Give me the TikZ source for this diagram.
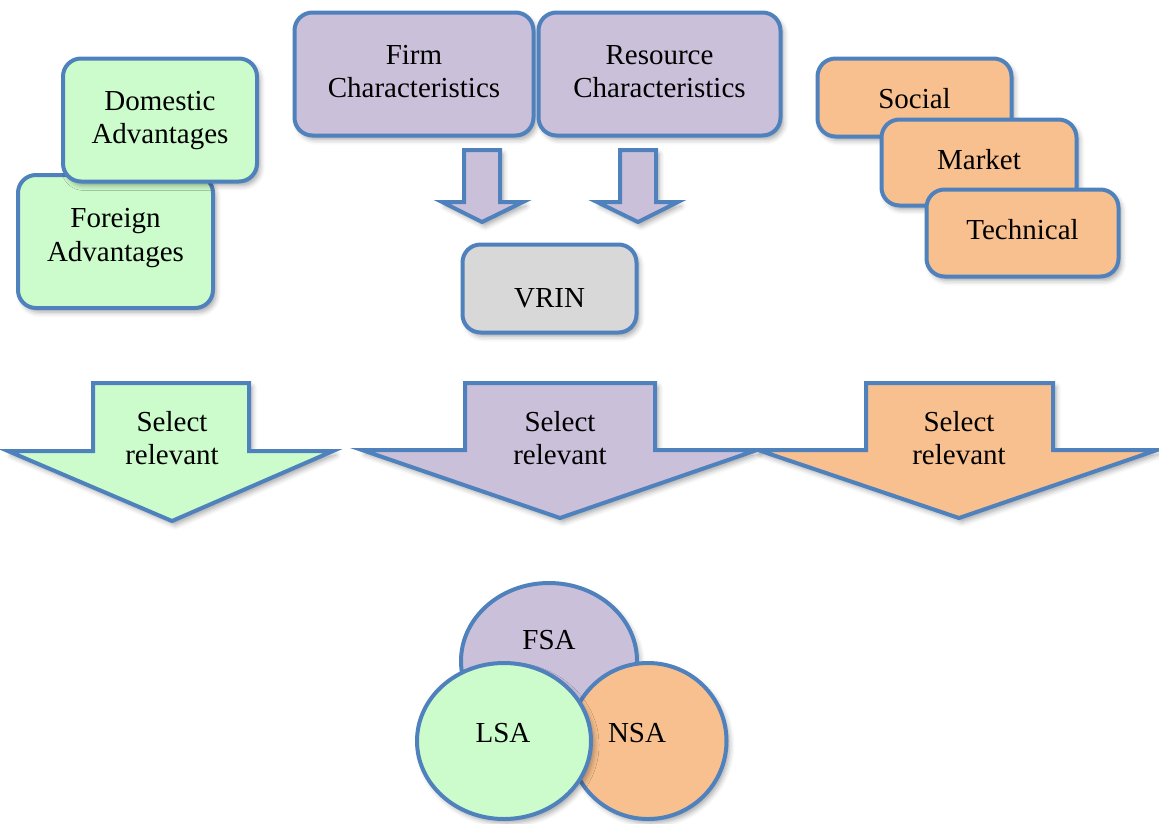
\documentclass[tikz,border=0pt]{standalone}
\usepackage{fontspec}
\setmainfont{Liberation Serif}
\usetikzlibrary{shadows.blur,shapes.geometric}
\definecolor{bord}{HTML}{4F81BD}
\definecolor{grn}{HTML}{CCFCCB}
\definecolor{prp}{HTML}{CBC0DA}
\definecolor{org}{HTML}{F8C08F}
\definecolor{gry}{HTML}{D8D8D8}
\tikzset{
  shd/.style={blur shadow={shadow xshift=3pt,shadow yshift=-4pt,shadow blur radius=5pt,shadow opacity=35}},
  rbox/.style={shd,draw=bord,line width=4pt,rounded corners=18pt,inner sep=0pt},
  blk/.style={shd,draw=bord,line width=4pt,line join=miter},
  ell/.style={shd,draw=bord,line width=4pt,ellipse,inner sep=0pt},
  lbl/.style={align=center,font=\fontsize{29}{33.5}\selectfont,inner sep=0pt}
}
\begin{document}
\begin{tikzpicture}[x=1pt,y=-1pt]
\useasboundingbox (0,0) rectangle (1159,823);
% left group
\node[rbox,fill=grn,minimum width=195pt,minimum height=133pt] (foreign) at (115.5,241.5) {};
\node[lbl] (foreignT) at (115.5,238) {Foreign\\Advantages};
\node[rbox,fill=grn,minimum width=194pt,minimum height=123pt] (domestic) at (160,120) {};
\node[lbl] (domesticT) at (160,120.5) {Domestic\\Advantages};
% top middle
\node[rbox,fill=prp,minimum width=239pt,minimum height=123pt] (firm) at (414,74) {};
\node[lbl] (firmT) at (414,71.5) {Firm\\Characteristics};
\node[rbox,fill=prp,minimum width=242pt,minimum height=123pt] (resource) at (659.5,74) {};
\node[lbl] (resourceT) at (659.5,71.5) {Resource\\Characteristics};
% small arrows
\path[blk,fill=prp] (464,150) -- (500,150) -- (500,202) -- (523,202) -- (482,222) -- (442,202) -- (464,202) -- cycle;
\path[blk,fill=prp] (620,150) -- (656,150) -- (656,202) -- (678,202) -- (638,222) -- (597,202) -- (620,202) -- cycle;
% VRIN
\node[rbox,fill=gry,minimum width=174pt,minimum height=88pt] (vrin) at (549.5,288.5) {};
\node[lbl] (vrinT) at (549.5,298) {VRIN};
% right group
\node[rbox,fill=org,minimum width=194pt,minimum height=78pt] (social) at (914.5,97.5) {};
\node[lbl] (socialT) at (914.5,99) {Social};
\node[rbox,fill=org,minimum width=195pt,minimum height=86pt] (market) at (979,162.5) {};
\node[lbl] (marketT) at (979,160) {Market};
\node[rbox,fill=org,minimum width=192pt,minimum height=87pt] (technical) at (1022.5,233) {};
\node[lbl] (technicalT) at (1022.5,230) {Technical};
% big arrows
\path[blk,fill=grn] (93,383) -- (249,383) -- (249,451) -- (333,451) -- (172,521) -- (8,451) -- (93,451) -- cycle;
\node[lbl] (selA) at (172,438) {Select\\relevant};
\path[blk,fill=prp] (465,383) -- (655,383) -- (655,450) -- (757,450) -- (560,518) -- (362,450) -- (465,450) -- cycle;
\node[lbl] (selB) at (560,438) {Select\\relevant};
\path[blk,fill=org] (866,383) -- (1053,383) -- (1053,450) -- (1157,450) -- (959,518) -- (758,450) -- (866,450) -- cycle;
\node[lbl] (selC) at (959,438) {Select\\relevant};
% ellipses
\node[ell,fill=prp,minimum width=176pt,minimum height=156pt] (fsa) at (549,661) {};
\node[lbl] (fsaT) at (549,640) {FSA};
\node[ell,fill=org,minimum width=157pt,minimum height=156pt] (nsa) at (648,741) {};
\node[lbl] (nsaT) at (637,733) {NSA};
\node[ell,fill=grn,minimum width=174pt,minimum height=156pt] (lsa) at (504,741) {};
\node[lbl] (lsaT) at (503,733) {LSA};
\end{tikzpicture}
\end{document}
